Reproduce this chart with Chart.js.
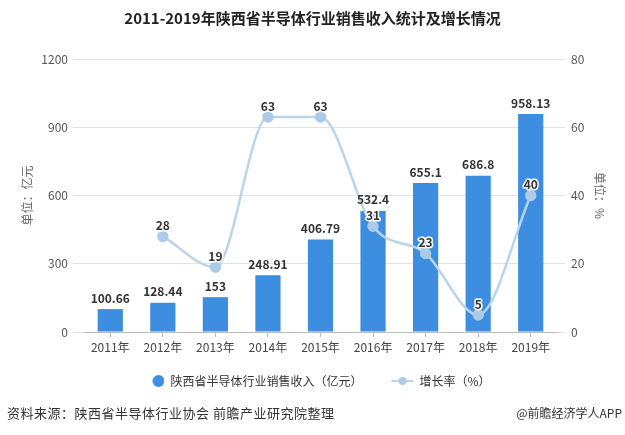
<!DOCTYPE html>
<html>
<head>
<meta charset="utf-8">
<script src="https://cdn.jsdelivr.net/npm/chart.js@4"></script>
<style>
  html, body { margin: 0; padding: 0; background: #fff; }
  #wrap { width: 625px; height: 435px; }
</style>
</head>
<body>
<div id="wrap"><canvas id="chart" width="625" height="435"></canvas></div>
<script>
// data
var years = ['2011年', '2012年', '2013年', '2014年', '2015年', '2016年', '2017年', '2018年', '2019年'];
var revenue = [100.66, 128.44, 153, 248.91, 406.79, 532.4, 655.1, 686.8, 958.13];
var growth = [null, 28, 19, 63, 63, 31, 23, 5, 40];
var leftTicks = [0, 300, 600, 900, 1200];
var rightTicks = [0, 20, 40, 60, 80];

var FONT = '"Microsoft YaHei", "Noto Sans CJK SC", sans-serif';
var BAR_COLOR = '#3d8ee0';
var LINE_COLOR = '#bcd4ea';
var POINT_COLOR = '#abcbe8';
var BOX_W = 30;   // legend symbol slot width

Chart.defaults.font.family = FONT;
Chart.defaults.font.size = 12;
Chart.defaults.color = '#555';

// legend symbols, drawn at the right end of the slot
function dotSymbol() {
    var c = document.createElement('canvas');
    c.width = BOX_W; c.height = 14;
    var g = c.getContext('2d');
    g.fillStyle = BAR_COLOR;
    g.beginPath(); g.arc(BOX_W - 6, 7, 6, 0, Math.PI * 2); g.fill();
    return c;
}
function lineSymbol() {
    var c = document.createElement('canvas');
    c.width = BOX_W; c.height = 10;
    var g = c.getContext('2d');
    g.strokeStyle = LINE_COLOR;
    g.lineWidth = 2;
    g.beginPath(); g.moveTo(BOX_W - 22, 5); g.lineTo(BOX_W, 5); g.stroke();
    g.fillStyle = POINT_COLOR;
    g.beginPath(); g.arc(BOX_W - 11, 5, 4, 0, Math.PI * 2); g.fill();
    return c;
}

var valueLabels = {
    id: 'valueLabels',
    afterDatasetsDraw: function(chart) {
        var ctx = chart.ctx;
        ctx.save();
        ctx.font = 'bold 12px ' + FONT;
        ctx.textAlign = 'center';
        ctx.textBaseline = 'bottom';
        ctx.fillStyle = '#333';
        chart.getDatasetMeta(0).data.forEach(function(bar, i) {
            ctx.fillText(String(revenue[i]), bar.x, bar.y - 5);
        });
        chart.getDatasetMeta(1).data.forEach(function(pt, i) {
            if (growth[i] == null) return;
            ctx.lineJoin = 'round';
            ctx.lineWidth = 3;
            ctx.strokeStyle = '#fff';
            ctx.strokeText(String(growth[i]), pt.x, pt.y - 5);
            ctx.fillText(String(growth[i]), pt.x, pt.y - 5);
        });
        ctx.restore();
    },
    afterDraw: function(chart) {
        var ctx = chart.ctx;
        ctx.save();
        ctx.fillStyle = '#333';
        ctx.textBaseline = 'middle';
        ctx.font = '13px ' + FONT;
        ctx.letterSpacing = '0.5px';
        ctx.textAlign = 'left';
        ctx.fillText('资料来源：陕西省半导体行业协会 前瞻产业研究院整理', 7, 413);
        ctx.letterSpacing = '0px';
        ctx.font = '12px ' + FONT;
        ctx.textAlign = 'right';
        ctx.fillText('@前瞻经济学人APP', 622, 413);
        ctx.restore();
    }
};

var chart = new Chart(document.getElementById('chart'), {
    data: {
        labels: years,
        datasets: [{
            type: 'bar',
            label: '陕西省半导体行业销售收入（亿元）',
            data: revenue,
            backgroundColor: BAR_COLOR,
            yAxisID: 'y',
            categoryPercentage: 1,
            barPercentage: 0.48,
            order: 2
        }, {
            type: 'line',
            label: '增长率（%）',
            data: growth,
            yAxisID: 'y1',
            borderColor: LINE_COLOR,
            backgroundColor: POINT_COLOR,
            pointBorderColor: POINT_COLOR,
            borderWidth: 2.5,
            pointRadius: 4.5,
            pointHoverRadius: 4.5,
            cubicInterpolationMode: 'monotone',
            order: 1
        }]
    },
    options: {
        responsive: false,
        animation: false,
        layout: { padding: { left: 0, right: 0, top: 0, bottom: 38 } },
        plugins: {
            title: {
                display: true,
                text: '2011-2019年陕西省半导体行业销售收入统计及增长情况',
                color: '#222',
                font: { size: 15, weight: 'bold' },
                padding: { top: 9, bottom: 32 }
            },
            legend: {
                position: 'bottom',
                labels: {
                    usePointStyle: true,
                    pointStyleWidth: BOX_W,
                    boxHeight: 12,
                    padding: 21,
                    color: '#333',
                    font: { size: 12 },
                    sort: function(a, b) { return a.datasetIndex - b.datasetIndex; },
                    generateLabels: function(chart) {
                        var items = Chart.defaults.plugins.legend.labels.generateLabels(chart);
                        items.forEach(function(it) {
                            it.pointStyle = it.datasetIndex === 0 ? dotSymbol() : lineSymbol();
                        });
                        return items;
                    }
                }
            },
            tooltip: { enabled: false }
        },
        scales: {
            x: {
                offset: true,
                grid: { display: true, drawOnChartArea: false, offset: false, tickLength: 5, color: '#bbb' },
                border: { color: '#bbb' },
                ticks: { padding: 3, color: '#444' },
                afterFit: function(scale) { scale.height = 22; }
            },
            y: {
                position: 'left',
                min: leftTicks[0],
                max: leftTicks[leftTicks.length - 1],
                ticks: { stepSize: 300, padding: 5, color: '#555', callback: function(v) { return String(v); } },
                grid: { color: '#e2e2e2', tickLength: 11 },
                border: { display: false },
                title: { display: true, text: '单位：亿元', color: '#666', font: { size: 12 }, padding: { top: 20, bottom: 0 } },
                afterFit: function(scale) { scale.width = 84; }
            },
            y1: {
                position: 'right',
                min: rightTicks[0],
                max: rightTicks[rightTicks.length - 1],
                ticks: { stepSize: 20, padding: 6, color: '#555', callback: function(v) { return String(v); } },
                grid: { drawOnChartArea: false, color: '#e2e2e2', tickLength: 8 },
                border: { display: false },
                title: { display: true, text: '单位：%', color: '#666', font: { size: 12 }, padding: { top: 18, bottom: 0 } },
                afterFit: function(scale) { scale.width = 68; }
            }
        }
    },
    plugins: [valueLabels]
});
</script>
</body>
</html>
